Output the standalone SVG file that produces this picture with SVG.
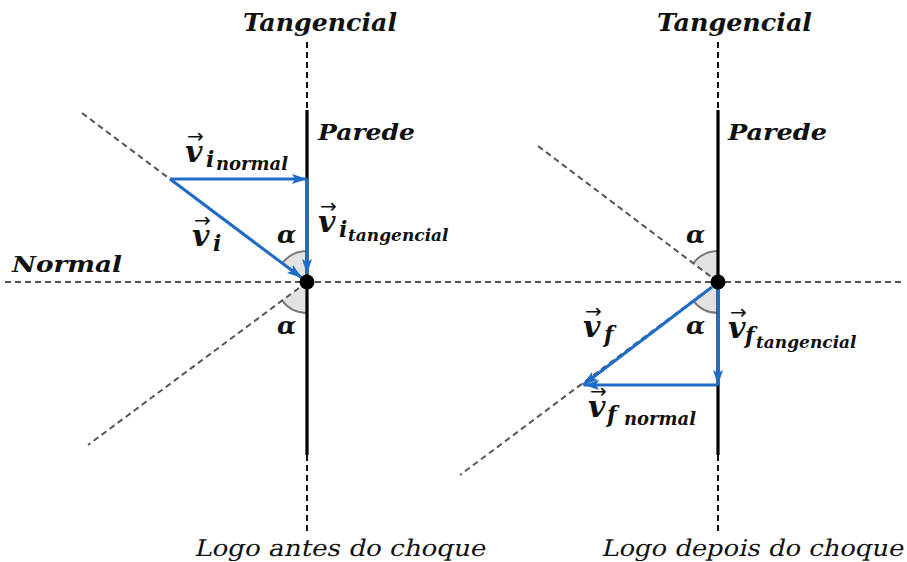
<svg xmlns="http://www.w3.org/2000/svg" width="907" height="562" viewBox="0 0 907 562">
<defs>
<style>
.m{font-family:"DejaVu Serif",serif;font-style:italic;font-weight:bold;fill:#111}
.t{font-family:"DejaVu Serif",serif;font-style:normal;fill:#111}
.arr{font-family:"DejaVu Sans",sans-serif;font-style:normal;font-weight:normal;font-size:20px}
.gdash{stroke:#555;stroke-width:2;stroke-dasharray:6 4;fill:none}
.kdash{stroke:#111;stroke-width:2;stroke-dasharray:6 4;fill:none}
.wall{stroke:#000;stroke-width:3.2;fill:none}
.vec{stroke:#1f6cc7;stroke-width:3;fill:none;marker-end:url(#ah)}
.wedge{fill:#e2e2e2;stroke:none}
.arc{fill:none;stroke:#777;stroke-width:2}
</style>
<marker id="ah" markerUnits="userSpaceOnUse" markerWidth="16" markerHeight="12" refX="15" refY="6" orient="auto">
<path d="M0,1 L15,6 L0,11 L3,6 z" fill="#1f6cc7"/>
</marker>
</defs>
<rect width="907" height="562" fill="#fff"/>

<g id="angles">
<path class="wedge" d="M307,282 L307,251 A31,31 0 0 0 282.2,263.4 Z"/>
<path class="arc" d="M307,251 A31,31 0 0 0 282.2,263.4"/>
<path class="wedge" d="M307,282 L307,313 A31,31 0 0 1 282.1,300.5 Z"/>
<path class="arc" d="M307,313 A31,31 0 0 1 282.1,300.5"/>
<path class="wedge" d="M718,282 L718,251 A31,31 0 0 0 693.3,263.3 Z"/>
<path class="arc" d="M718,251 A31,31 0 0 0 693.3,263.3"/>
<path class="wedge" d="M718,282 L718,313 A31,31 0 0 1 693.2,300.6 Z"/>
<path class="arc" d="M718,313 A31,31 0 0 1 693.2,300.6"/>
</g>

<g id="axes">
<line class="gdash" x1="5" y1="282" x2="905" y2="282"/>
<line class="gdash" x1="82" y1="113" x2="307" y2="282"/>
<line class="gdash" x1="307" y1="282" x2="88" y2="445"/>
<line class="gdash" x1="538" y1="146" x2="718" y2="282"/>
<line class="gdash" x1="718" y1="282" x2="460" y2="475"/>
<line class="kdash" x1="307" y1="42" x2="307" y2="110"/>
<line class="kdash" x1="307" y1="455" x2="307" y2="532"/>
<line class="kdash" x1="718" y1="42" x2="718" y2="110"/>
<line class="kdash" x1="718" y1="455" x2="718" y2="532"/>
</g>

<g id="wall-left"><line class="wall" x1="307" y1="110" x2="307" y2="455"/></g>
<g id="wall-right"><line class="wall" x1="718" y1="110" x2="718" y2="455"/></g>

<g id="connectors">
<line class="vec" x1="170" y1="179" x2="302" y2="278"/>
<line class="vec" x1="170" y1="179" x2="307" y2="179"/>
<line class="vec" x1="307" y1="179" x2="307" y2="274"/>
<line class="vec" x1="712" y1="287" x2="583" y2="385"/>
<line class="vec" x1="718" y1="288" x2="718" y2="385"/>
<line class="vec" x1="718" y1="385" x2="584" y2="385"/>
</g>

<g id="impact-left"><circle cx="307" cy="282" r="7.5" fill="#000"/></g>
<g id="impact-right"><circle cx="718" cy="282" r="7.5" fill="#000"/></g>

<g id="labels-axes">
<text class="m" x="243" y="31" font-size="24" textLength="154" lengthAdjust="spacingAndGlyphs">Tangencial</text>
<text class="m" x="657" y="31" font-size="24" textLength="155" lengthAdjust="spacingAndGlyphs">Tangencial</text>
<text class="m" x="318" y="140" font-size="23" textLength="97" lengthAdjust="spacingAndGlyphs">Parede</text>
<text class="m" x="728" y="140" font-size="23" textLength="99" lengthAdjust="spacingAndGlyphs">Parede</text>
<text class="m" x="12" y="272" font-size="23" textLength="110" lengthAdjust="spacingAndGlyphs">Normal</text>
<g transform="translate(194,556) skewX(-13)"><text class="t" x="0" y="0" font-size="23" textLength="291" lengthAdjust="spacingAndGlyphs">Logo antes do choque</text></g>
<g transform="translate(601,556) skewX(-13)"><text class="t" x="0" y="0" font-size="23" textLength="302" lengthAdjust="spacingAndGlyphs">Logo depois do choque</text></g>
<text class="m" x="277" y="243" font-size="25">α</text>
<text class="m" x="277" y="334" font-size="25">α</text>
<text class="m" x="686" y="243" font-size="25">α</text>
<text class="m" x="686" y="334" font-size="25">α</text>
</g>

<g id="label-vi-normal">
<text class="m"><tspan class="arr" x="187" y="143">→</tspan><tspan x="185" y="162" font-size="30">v</tspan><tspan x="206" y="167" font-size="22">i</tspan><tspan x="216" y="170" font-size="18">normal</tspan></text>
</g>
<g id="label-vi">
<text class="m"><tspan class="arr" x="194" y="227">→</tspan><tspan x="192" y="246" font-size="30">v</tspan><tspan x="213" y="251" font-size="22">i</tspan></text>
</g>
<g id="label-vi-tangencial">
<text class="m"><tspan class="arr" x="320" y="213">→</tspan><tspan x="318" y="232" font-size="30">v</tspan><tspan x="339" y="237" font-size="22">i</tspan><tspan x="348" y="241" font-size="17">tangencial</tspan></text>
</g>
<g id="label-vf">
<text class="m"><tspan class="arr" x="585" y="318">→</tspan><tspan x="583" y="337" font-size="30">v</tspan><tspan x="604" y="342" font-size="22">f</tspan></text>
</g>
<g id="label-vf-tangencial">
<text class="m"><tspan class="arr" x="730" y="319">→</tspan><tspan x="728" y="338" font-size="30">v</tspan><tspan x="745" y="343" font-size="22">f</tspan><tspan x="756" y="348" font-size="17">tangencial</tspan></text>
</g>
<g id="label-vf-normal">
<text class="m"><tspan class="arr" x="590" y="398">→</tspan><tspan x="588" y="417" font-size="30">v</tspan><tspan x="607" y="422" font-size="22">f</tspan><tspan x="624" y="425" font-size="18">normal</tspan></text>
</g>
</svg>
